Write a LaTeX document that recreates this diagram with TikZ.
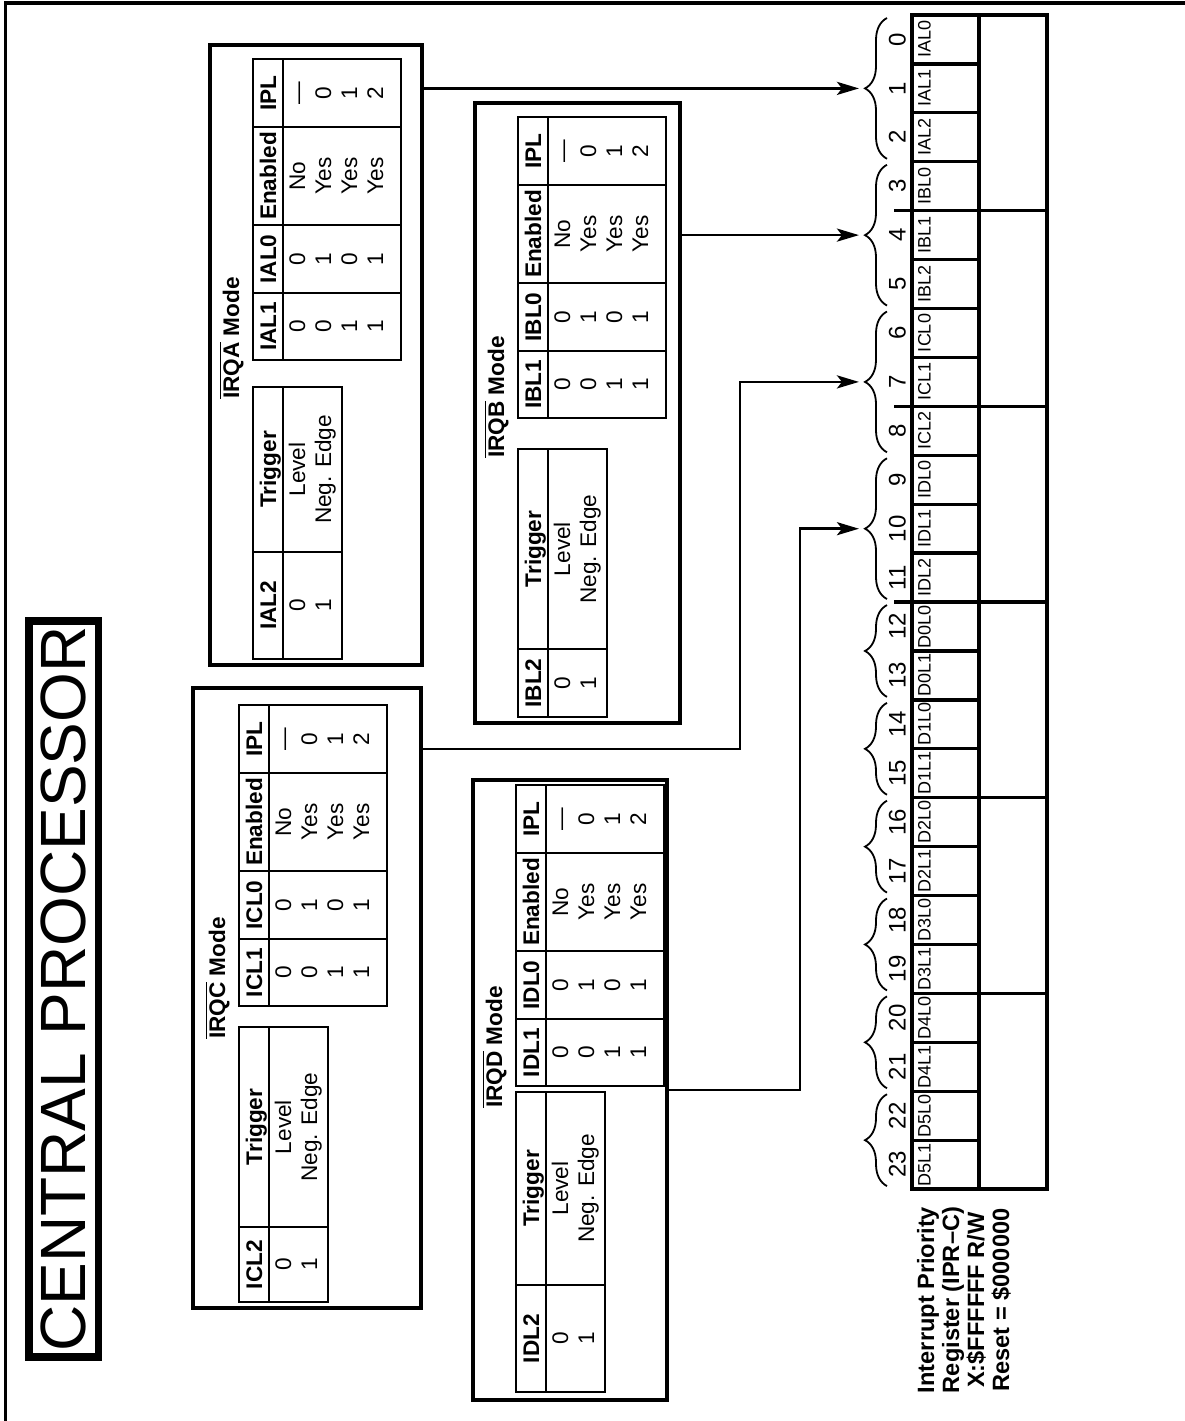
\documentclass[tikz,border=0pt]{standalone}
\usepackage{fontspec}
\setmainfont{Liberation Sans}
\usetikzlibrary{arrows.meta,decorations.pathreplacing,fit}

\newcommand\tblsize{\fontsize{11.3}{13}\selectfont}
\newcommand\barname[1]{$\overline{\mbox{#1}}$}
% #1 letter, #2 table left, #3 top of right table, #4-#6 left table rows, #7 label
\newcommand\irqtables[7]{%
  \node[hdr] (lbl#1) at (#2-14,#7) {\barname{IRQ#1} Mode};
  \draw[tbl] (#2,#3) rectangle (#2+148,#3+301);
  \draw[tbl] (#2+30,#3) -- (#2+30,#3+301);
  \foreach \c in {68,166,234} \draw[tbl] (#2,#3+\c) -- (#2+148,#3+\c);
  \node[hdr] (h#1ipl) at (#2+23,#3+34) {IPL};
  \node[hdr] (h#1en) at (#2+23,#3+117) {Enabled};
  \node[hdr] (h#1lz) at (#2+23,#3+200) {I#1L0};
  \node[hdr] (h#1lo) at (#2+23,#3+267.5) {I#1L1};
  \foreach \vone/\vzero/\ven/\vipl [count=\r from 0] in
      {0/0/No/\textemdash,0/1/Yes/0,1/0/Yes/1,1/1/Yes/2}{
    \node[cell] (c#1\r a) at (#2+52+26*\r,#3+267.5) {\vone};
    \node[cell] (c#1\r b) at (#2+52+26*\r,#3+200) {\vzero};
    \node[cell] (c#1\r c) at (#2+52+26*\r,#3+117) {\ven};
    \node[cell] (c#1\r d) at (#2+52+26*\r,#3+34) {\vipl};
  }
  \draw[tbl] (#2,#4) rectangle (#2+89,#6);
  \draw[tbl] (#2+30,#4) -- (#2+30,#6);
  \draw[tbl] (#2,#5) -- (#2+89,#5);
  \node[hdr] (h#1trg) at (#2+23,{(#4+#5)/2}) {Trigger};
  \node[hdr] (h#1lt) at (#2+23,{(#5+#6)/2}) {I#1L2};
  \node[cell] (t#1a) at (#2+52,{(#4+#5)/2}) {Level};
  \node[cell] (t#1b) at (#2+78,{(#4+#5)/2}) {Neg. Edge};
  \node[cell] (t#1c) at (#2+52,{(#5+#6)/2}) {0};
  \node[cell] (t#1d) at (#2+78,{(#5+#6)/2}) {1};
}

\begin{document}
\begin{tikzpicture}[x=0.5pt,y=-0.5pt,
  modebox/.style={draw,line width=1.7pt,inner sep=0pt},
  tbl/.style={line width=1.35pt},
  hdr/.style={rotate=90,inner sep=0pt,anchor=base,font=\bfseries\tblsize},
  cell/.style={rotate=90,inner sep=0pt,anchor=base,font=\tblsize},
  reg/.style={line width=1.65pt},
  bitnum/.style={rotate=90,inner sep=0pt,anchor=base,font=\fontsize{12}{14}\selectfont},
  bitname/.style={rotate=90,inner sep=0pt,anchor=base,font=\fontsize{9}{11}\selectfont},
  grp/.style={decorate,decoration={brace,amplitude=11pt},line width=0.9pt},
  conn/.style={line width=1.35pt,-{Stealth[length=11pt,width=6.5pt,inset=2.5pt]}}]
\useasboundingbox (0,0) rectangle (1185,1421);

% page frame and title tab
\draw[line width=1.65pt] (5.5,1421) -- (5.5,3) -- (1185,3);
\node[draw,line width=3.75pt,rotate=90,minimum width=368pt,minimum height=34.75pt,
  inner sep=0pt,font=\fontsize{32}{36}\selectfont] (title) at (63.75,989) {CENTRAL PROCESSOR};

% mode boxes
\node[modebox,fit={(210,45) (422,665)}] (irqa) {};
\node[modebox,fit={(475,103) (680,723)}] (irqb) {};
\node[modebox,fit={(193,688) (421,1308)}] (irqc) {};
\node[modebox,fit={(473,780) (667,1400)}] (irqd) {};
\irqtables{A}{253}{59}{387}{552}{659}{338}
\irqtables{B}{518}{117}{449}{649}{717}{397}
\irqtables{C}{239}{705}{1027}{1227}{1302}{978}
\irqtables{D}{516}{785}{1092}{1285}{1392}{1047}

% register IPR-C
\draw[reg] (912,15) rectangle (1047,1189);
\draw[reg] (979,15) -- (979,1189);
\foreach \b in {1,...,23} \draw[reg] (912,15+48.92*\b) -- (979,15+48.92*\b);
\foreach \b in {4,8,12} \draw[reg] (894,15+48.92*\b) -- (1047,15+48.92*\b);
\foreach \b in {16,20} \draw[reg] (979,15+48.92*\b) -- (1047,15+48.92*\b);
\foreach \nm [count=\b from 0] in {IAL0,IAL1,IAL2,IBL0,IBL1,IBL2,ICL0,ICL1,ICL2,
    IDL0,IDL1,IDL2,D0L0,D0L1,D1L0,D1L1,D2L0,D2L1,D3L0,D3L1,D4L0,D4L1,D5L0,D5L1}{
  \node[bitnum] (n\b) at (905.6,15+48.92*\b+24.46) {\b};
  \node[bitname] (f\b) at (930.5,15+48.92*\b+24.46) {\nm};
}
\foreach \s/\e in {0/3,3/6,6/9,9/12,12/14,14/16,16/18,18/20,20/22,22/24}
  \draw[grp] (887,15+48.92*\e-3) -- (887,15+48.92*\s+3);
\node[rotate=90,align=center,inner sep=0pt,font=\bfseries\fontsize{11.8}{12.5}\selectfont]
  (iprc) at (964,1300) {Interrupt Priority\\Register (IPR--C)\\X:\$FFFFFF R/W\\Reset = \$000000};

% connectors
\coordinate (grpA) at (859,88.4);
\coordinate (grpB) at (859,235.1);
\coordinate (grpC) at (859,381.9);
\coordinate (grpD) at (859,528.7);
\coordinate (cbend) at (740,749);
\coordinate (dbend) at (800,1090);
\draw[conn] (irqa.east |- grpA) -- (grpA);
\draw[conn] (irqb.east |- grpB) -- (grpB);
\draw[conn] (irqc.east |- cbend) -- (cbend) |- (grpC);
\draw[conn] (irqd.east |- dbend) -- (dbend) |- (grpD);
\end{tikzpicture}
\end{document}
